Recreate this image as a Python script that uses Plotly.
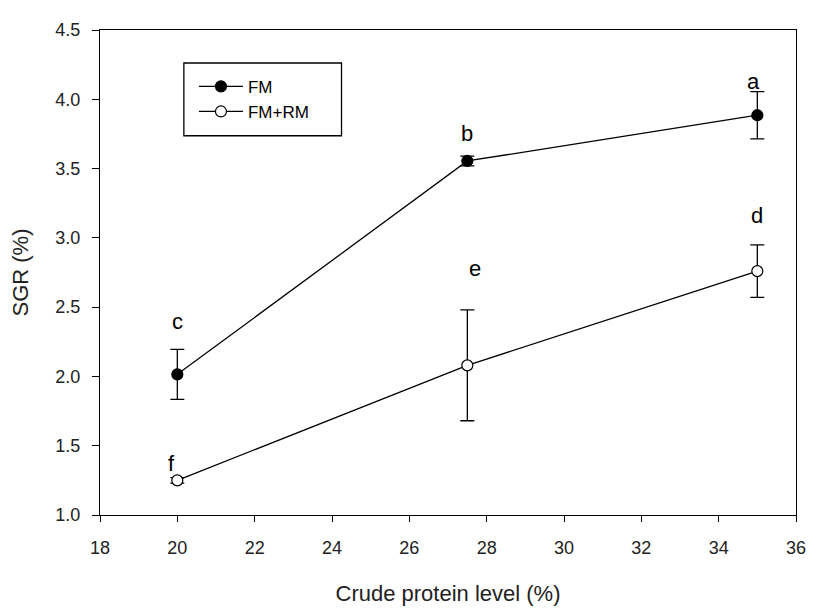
import plotly.graph_objects as go

protein = [20, 27.5, 35]
fm_sgr = [2.015, 3.555, 3.885]
fm_err = [0.18, 0.035, 0.17]
fmrm_sgr = [1.25, 2.08, 2.76]
fmrm_err = [0.02, 0.40, 0.19]

letter_text = ["c", "b", "a", "f", "e", "d"]
letter_x = [20, 27.5, 34.9, 19.85, 27.7, 35]
letter_y = [2.40, 3.75, 4.13, 1.37, 2.78, 3.16]

x_ticks = list(range(18, 37, 2))
y_ticks = [1.0, 1.5, 2.0, 2.5, 3.0, 3.5, 4.0, 4.5]

FONT = "Liberation Sans, Arial, sans-serif"

fig = go.Figure()
fig.add_trace(go.Scatter(
    x=protein, y=fm_sgr, name="FM", mode="lines+markers",
    line=dict(color="black", width=1.3),
    marker=dict(symbol="circle", size=11, color="black", line=dict(color="black", width=1.2)),
    error_y=dict(type="data", array=fm_err, visible=True, color="black", thickness=1.3, width=7),
))
fig.add_trace(go.Scatter(
    x=protein, y=fmrm_sgr, name="FM+RM", mode="lines+markers",
    line=dict(color="black", width=1.3),
    marker=dict(symbol="circle", size=11, color="white", line=dict(color="black", width=1.2)),
    error_y=dict(type="data", array=fmrm_err, visible=True, color="black", thickness=1.3, width=7),
))

for t, lx, ly in zip(letter_text, letter_x, letter_y):
    fig.add_annotation(x=lx, y=ly, xref="x", yref="y", text=t, showarrow=False,
                       font=dict(family=FONT, size=22, color="black"))

fig.add_shape(type="rect", xref="paper", yref="paper",
              x0=0.1205, x1=0.347, y0=0.782, y1=0.932,
              line=dict(color="black", width=1.3), fillcolor="rgba(0,0,0,0)")

fig.update_layout(
    width=810, height=605,
    margin=dict(l=90, r=13, t=15, b=81),
    paper_bgcolor="white", plot_bgcolor="white",
    font=dict(family=FONT, size=17, color="black"),
    showlegend=True,
    legend=dict(x=0.135, y=0.92, xanchor="left", yanchor="top",
                bgcolor="rgba(0,0,0,0)", borderwidth=0,
                font=dict(family=FONT, size=17, color="black"),
                itemwidth=44, tracegroupgap=0),
    xaxis=dict(range=[18, 36], tickvals=x_ticks, showline=True, mirror=True,
               linecolor="black", linewidth=1.3, ticks="outside", ticklen=6,
               tickcolor="black", showgrid=False, zeroline=False,
               ticklabelstandoff=10, ticklabeloverflow="allow",
               tickfont=dict(family=FONT, size=18, color="#222"),
               title=dict(text="Crude protein level (%)", standoff=28,
                          font=dict(family=FONT, size=22, color="#222"))),
    yaxis=dict(range=[1.0, 4.5], tickvals=y_ticks, tickformat=".1f", showline=True,
               mirror=True, linecolor="black", linewidth=1.3, ticks="outside",
               ticklen=7, tickcolor="black", showgrid=False, zeroline=False,
               ticklabelstandoff=8, ticklabeloverflow="allow",
               tickfont=dict(family=FONT, size=18, color="#222"),
               title=dict(text="SGR (%)", standoff=20,
                          font=dict(family=FONT, size=22, color="#222"))),
)

fig.write_html("out.html")
